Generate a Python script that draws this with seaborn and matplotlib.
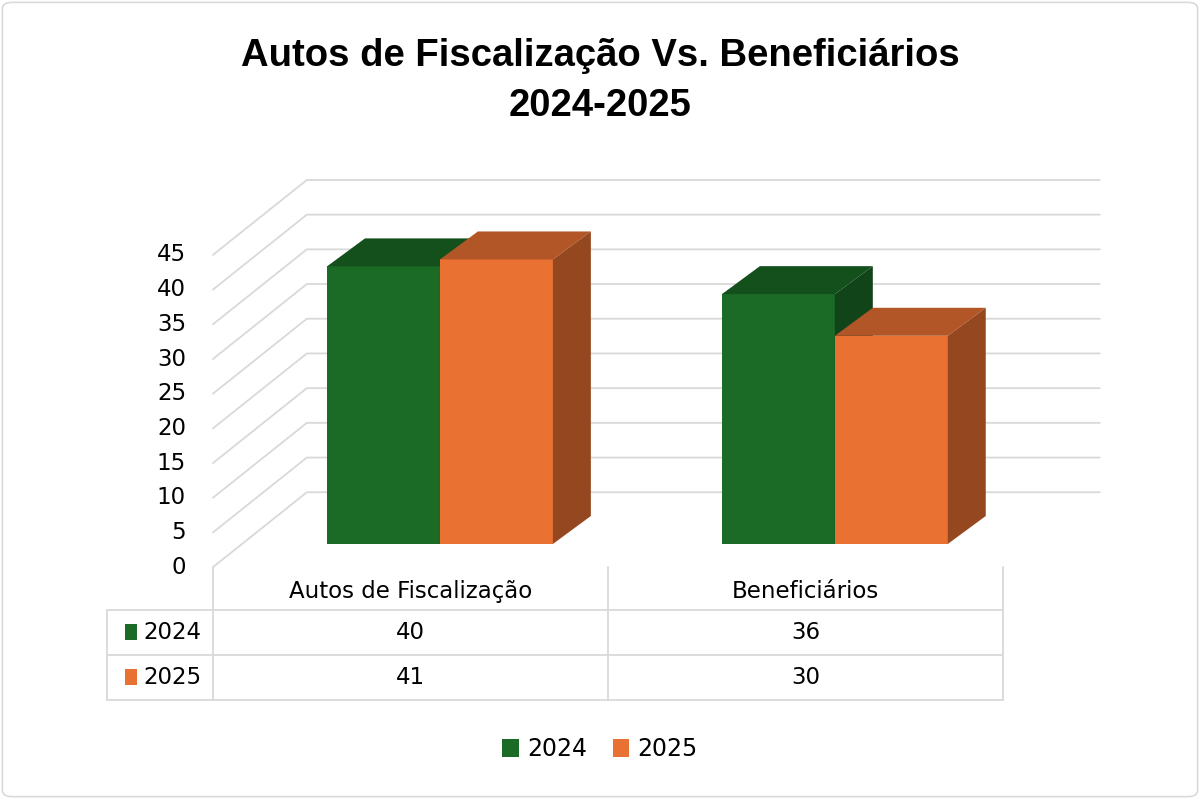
import matplotlib
matplotlib.use('Agg')
import pandas as pd
import matplotlib.pyplot as plt
import seaborn as sns
import numpy as np
from matplotlib.patches import Polygon, FancyBboxPatch, Rectangle

categories = ['Autos de Fiscalização', 'Beneficiários']
years = ['2024', '2025']
values_2024 = [40, 36]
values_2025 = [41, 30]
yticks = list(range(0, 50, 5))
title = 'Autos de Fiscalização Vs. Beneficiários\n2024-2025'

front = {'2024': '#1B6B27', '2025': '#E97132'}
top = {'2024': '#13501C', '2025': '#B35627'}
side = {'2024': '#114419', '2025': '#95471F'}
grid_c = '#D9D9D9'

df = pd.DataFrame({
    'categoria': categories * 2,
    'ano': [years[0]] * 2 + [years[1]] * 2,
    'valor': values_2024 + values_2025,
})

sns.set_style('white')
plt.rcParams['font.family'] = ['DejaVu Sans']
plt.rcParams['text.color'] = '#000000'

fig = plt.figure(figsize=(12, 7.99), dpi=100)
W, H = 1200, 799
px_per_unit = 6.94
ax = fig.add_axes([203 / W, 1 - 599.5 / H, 928 / W, (599.5 - 162.3) / H])

sns.barplot(data=df, x='categoria', y='valor', hue='ano', hue_order=years,
            palette=[front[y] for y in years], width=0.572, saturation=1,
            linewidth=0, legend=False, ax=ax)
ax.set_xlim(-0.6, 1.75)
ax.set_ylim(-8, 55)
ax.set_axis_off()

# depth of the whole "room" and of the bars (x in category units, y in value units)
DX, DY = 94 / 395, 75 / px_per_unit
bdx, bdy = 38 / 395, 28 / px_per_unit
z_front, z_back = -0.31, 0.69
x_left = -0.5 - z_front * DX - 0.075
x_right = 1.507


def proj(x, y, z):
    return x + z * DX, y + z * DY


# back wall and left wall gridlines
for v in yticks:
    x0, y0 = proj(x_left, v, z_front)
    x1, y1 = proj(x_left, v, z_back)
    x2, y2 = proj(x_right, v, z_back)
    ax.plot([x0, x1, x2], [y0, y1, y2], color=grid_c, lw=1.3, zorder=0,
            clip_on=False, solid_joinstyle='miter')
    ax.text(x0 - 0.068, y0, str(v), ha='right', va='center', fontsize=16.5,
            clip_on=False)

# 3D faces on top of seaborn's bars
for i, bar in enumerate(ax.patches):
    yr = years[i // len(categories)]
    z = 2 + i // len(categories)
    bar.set_zorder(z)
    x, w, h = bar.get_x(), bar.get_width(), bar.get_height()
    ax.add_patch(Polygon([(x, h), (x + w, h), (x + w + bdx, h + bdy), (x + bdx, h + bdy)],
                         closed=True, fc=top[yr], ec='none', zorder=z))
    ax.add_patch(Polygon([(x + w, 0), (x + w + bdx, bdy), (x + w + bdx, h + bdy), (x + w, h)],
                         closed=True, fc=side[yr], ec='none', zorder=z))


# data table below the chart
def to_y(p):
    return (544 - p) / px_per_unit


tbl_left = (107 - 440) / 395
col_edges = [proj(i - 0.5, 0, z_front)[0] for i in range(len(categories) + 1)]
row_lines = [to_y(610), to_y(655), to_y(700)]
top_y = to_y(567)
for ry in row_lines:
    ax.plot([tbl_left, col_edges[-1]], [ry, ry], color=grid_c, lw=1.3, clip_on=False)
ax.plot([tbl_left, tbl_left], [row_lines[0], row_lines[-1]], color=grid_c, lw=1.3, clip_on=False)
for cx in col_edges:
    ax.plot([cx, cx], [top_y, row_lines[-1]], color=grid_c, lw=1.3, clip_on=False)

for i, cat in enumerate(categories):
    cx = (col_edges[i] + col_edges[i + 1]) / 2
    ax.text(cx, to_y(592), cat, ha='center', va='center', fontsize=16.5, clip_on=False)
    for j, vals in enumerate([values_2024, values_2025]):
        ry = (row_lines[j] + row_lines[j + 1]) / 2
        ax.text(cx, ry, str(vals[i]), ha='center', va='center', fontsize=16.5, clip_on=False)

for j, yr in enumerate(years):
    ry = (row_lines[j] + row_lines[j + 1]) / 2
    ax.add_patch(Rectangle((tbl_left + 0.046, ry - 1.15), 0.031, 2.3, fc=front[yr],
                           ec='none', clip_on=False))
    ax.text(tbl_left + 0.093, ry, yr, ha='left', va='center', fontsize=16.5, clip_on=False)

# legend
handles = [Rectangle((0, 0), 1, 1, fc=front[y], ec='none') for y in years]
fig.legend(handles, years, loc='center', bbox_to_anchor=(0.5, 1 - 749 / H), ncol=2,
           frameon=False, fontsize=17, handlelength=0.7, handleheight=0.8,
           handletextpad=0.35, columnspacing=1.1)

fig.text(0.5, 1 - 81 / H, title, ha='center', va='center', fontsize=27.5,
         fontweight='bold', family=['Liberation Sans', 'DejaVu Sans'], linespacing=1.5)

fig.patches.append(FancyBboxPatch((0.002, 0.003), 0.996, 0.994,
                                  boxstyle='round,pad=0,rounding_size=0.008',
                                  transform=fig.transFigure, fill=False,
                                  ec='#D9D9D9', lw=1.2))

plt.savefig('out.png', dpi=100)
